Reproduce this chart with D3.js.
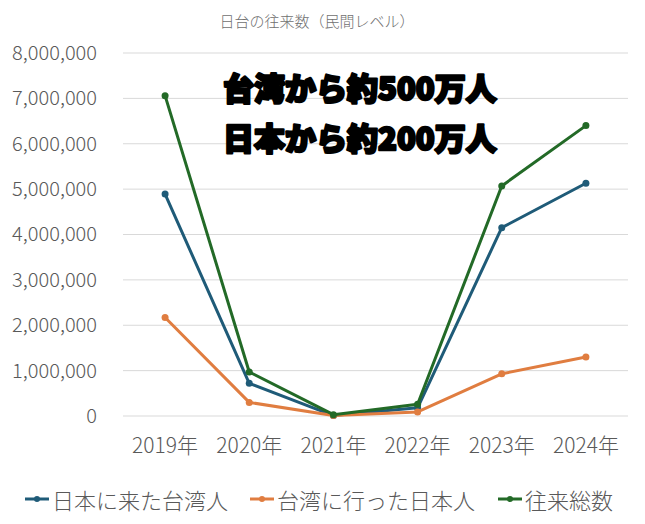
<!DOCTYPE html>
<html>
<head>
<meta charset="utf-8">
<script src="https://cdn.jsdelivr.net/npm/d3@7"></script>
<style>
  body { margin: 0; background: #fff; }
  svg { display: block; font-family: "Noto Sans CJK JP", "Noto Sans", sans-serif; }
</style>
</head>
<body>
<div id="chart"></div>
<script>
var years = ["2019年", "2020年", "2021年", "2022年", "2023年", "2024年"];
var taiwanToJapan = [4890000, 720000, 10000, 180000, 4150000, 5130000];
var japanToTaiwan = [2170000, 300000, 10000, 90000, 930000, 1300000];
var totalTraffic = [7060000, 970000, 30000, 260000, 5070000, 6400000];
var seriesNames = ["日本に来た台湾人", "台湾に行った日本人", "往来総数"];
var seriesColors = ["#1f5b78", "#e07d40", "#236a27"];
var yTicks = [0, 1000000, 2000000, 3000000, 4000000, 5000000, 6000000, 7000000, 8000000];
var chartTitle = "日台の往来数（民間レベル）";
var noteLines = ["台湾から約500万人", "日本から約200万人"];

var W = 645, H = 524;
var margin = { top: 53, right: 17, bottom: 108, left: 123 };
var width = W - margin.left - margin.right;
var height = H - margin.top - margin.bottom;

var svg = d3.select("#chart")
    .append("svg")
    .attr("width", W)
    .attr("height", H);

var g = svg.append("g")
    .attr("transform", "translate(" + margin.left + "," + margin.top + ")");

var x = d3.scaleBand()
    .domain(years)
    .range([0, width]);

var y = d3.scaleLinear()
    .domain([0, 8000000])
    .range([height, 0]);

// gridlines
g.selectAll(".grid")
    .data(yTicks)
    .enter()
    .append("line")
    .attr("x1", 0)
    .attr("x2", width)
    .attr("y1", d => y(d))
    .attr("y2", d => y(d))
    .attr("stroke", "#d9d9d9")
    .attr("stroke-width", 1);

// y axis labels
var yAxis = g.append("g")
    .call(d3.axisLeft(y).tickValues(yTicks).tickSize(0).tickPadding(26)
          .tickFormat(d3.format(",")));
yAxis.select(".domain").remove();
yAxis.selectAll("text")
    .attr("fill", "#595959")
    .style("font-size", "20px")
    .style("font-weight", 300)
    .style("font-family", "\"Noto Sans CJK JP\", sans-serif");

// x axis labels
var xAxis = g.append("g")
    .attr("transform", "translate(0," + height + ")")
    .call(d3.axisBottom(x).tickSize(0).tickPadding(22));
xAxis.select(".domain").remove();
xAxis.selectAll("text")
    .attr("fill", "#595959")
    .style("font-size", "21px")
    .style("font-weight", 300)
    .style("font-family", "\"Noto Sans CJK JP\", sans-serif");

// title
svg.append("text")
    .attr("x", 317)
    .attr("y", 20)
    .attr("text-anchor", "middle")
    .attr("dominant-baseline", "central")
    .attr("fill", "#707070")
    .style("font-size", "15px")
    .style("font-weight", 300)
    .text(chartTitle);

var allSeries = [taiwanToJapan, japanToTaiwan, totalTraffic];

var line = d3.line()
    .x((d, i) => x(years[i]) + x.bandwidth() / 2)
    .y(d => y(d));

allSeries.forEach((values, k) => {
    g.append("path")
        .datum(values)
        .attr("d", line)
        .attr("fill", "none")
        .attr("stroke", seriesColors[k])
        .attr("stroke-width", 3)
        .attr("stroke-linejoin", "round");
    g.selectAll(".pt" + k)
        .data(values)
        .enter()
        .append("circle")
        .attr("cx", (d, i) => x(years[i]) + x.bandwidth() / 2)
        .attr("cy", d => y(d))
        .attr("r", 3.5)
        .attr("fill", seriesColors[k]);
});

// big annotation
svg.selectAll(".note")
    .data(noteLines)
    .enter()
    .append("text")
    .attr("x", 223)
    .attr("y", (d, i) => 86 + i * 50)
    .attr("dominant-baseline", "central")
    .attr("fill", "#000")
    .attr("stroke", "#000")
    .attr("stroke-width", 2.5)
    .attr("stroke-linejoin", "round")
    .style("font-size", "31px")
    .style("font-weight", 900)
    .text(d => d);

// legend
var legendX = [25, 250, 498];
var legend = svg.selectAll(".legend")
    .data(seriesNames)
    .enter()
    .append("g")
    .attr("transform", (d, i) => "translate(" + legendX[i] + ",499)");
legend.append("line")
    .attr("x1", 0)
    .attr("x2", 24)
    .attr("stroke", (d, i) => seriesColors[i])
    .attr("stroke-width", 3);
legend.append("circle")
    .attr("cx", 12)
    .attr("r", 3)
    .attr("fill", (d, i) => seriesColors[i]);
legend.append("text")
    .attr("x", 27)
    .attr("dominant-baseline", "central")
    .attr("fill", "#595959")
    .style("font-size", "22px")
    .style("font-weight", 300)
    .text(d => d);
</script>
</body>
</html>
